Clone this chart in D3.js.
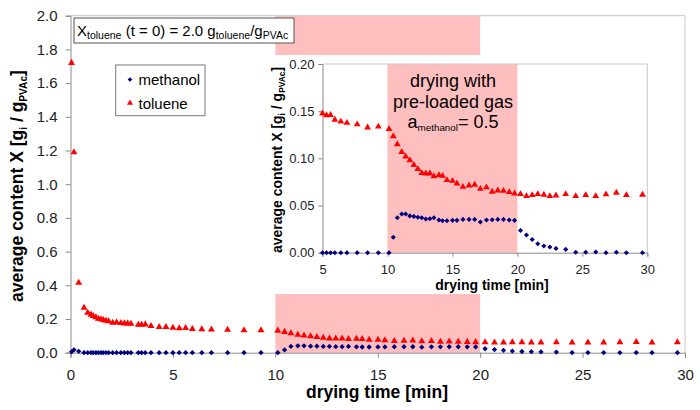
<!DOCTYPE html>
<html><head><meta charset="utf-8">
<script src="https://cdn.jsdelivr.net/npm/d3@7"></script>
<style>body{margin:0;background:#fff}svg{display:block}</style>
</head><body>
<svg id="c" width="700" height="410"></svg>
<script>
// ---- data ----
const time = [0.05,0.17,0.4,0.66,0.84,1.0,1.11,1.24,1.36,1.49,1.6,1.73,1.86,2.06,2.25,2.46,2.63,2.79,2.95,3.31,3.47,3.65,3.93,4.33,4.66,
  5.0,5.31,5.62,5.95,6.41,6.88,7.67,8.47,9.3,10.12,10.45,10.76,11.1,11.4,11.72,12.03,12.34,12.64,12.95,13.26,13.57,13.96,14.24,
  14.58,15.01,15.35,15.81,16.28,16.71,17.15,17.62,18.06,18.49,18.93,19.37,19.78,20.24,20.7,21.14,21.57,22.04,22.5,22.97,23.72,
  24.49,25.26,26.03,26.82,27.62,28.39,29.63];
const toluene = [1.72,1.19,0.415,0.267,0.237,0.226,0.218,0.21,0.202,0.198,0.194,0.19,0.186,0.178,0.18,0.176,0.174,0.174,0.172,0.166,0.166,0.168,0.158,0.152,0.152,
  0.1475,0.1457,0.146,0.141,0.139,0.1376,0.136,0.1327,0.1337,0.131,0.1235,0.115,0.1066,0.102,0.098,0.093,0.0886,0.0844,0.084,0.084,0.081,0.0823,0.0815,
  0.0769,0.0762,0.0734,0.0698,0.0713,0.072,0.0677,0.0692,0.0646,0.066,0.0656,0.0642,0.0628,0.0621,0.060,0.0611,0.0621,0.0614,0.060,0.0607,0.0621,
  0.060,0.0611,0.060,0.0618,0.0635,0.0611,0.0614];
const methanol = [0.005,0.017,0.008,0,0,0,0,0,0,0,0,0,0,0,0,0,0,0,0,0,0,0,0,0,0,
  0,0,0,0,0,0,0,0,0,0,0.0163,0.037,0.041,0.041,0.039,0.0385,0.0375,0.037,0.0357,0.036,0.037,0.0346,0.0339,
  0.0339,0.0343,0.0343,0.0353,0.0353,0.0353,0.0325,0.0346,0.0349,0.0353,0.0353,0.0346,0.0343,0.0235,0.0187,0.014,0.0095,0.0071,0.006,0.0045,0.0035,
  0.0005,0.0005,0.0007,0,0.0005,0,0];
const mainXTicks = [0,5,10,15,20,25,30];
const mainYTicks = [0,0.2,0.4,0.6,0.8,1.0,1.2,1.4,1.6,1.8,2.0];
const insetXTicks = [5,10,15,20,25,30];
const insetYTicks = [0,0.05,0.10,0.15,0.20];
const shadeRange = [10,20];
const seriesNames = ["methanol","toluene"];

// ---- helpers ----
const svg = d3.select("#c");
const FONT = "Liberation Sans, Arial, sans-serif";
const AX = "#8a8a8a", RED = "#ff0000", NAVY = "#000080", PINK = "#ffbfbf";
const pts = time.map((t,i)=>({t, tol: toluene[i], met: methanol[i]}));

function rich(g, x, y, parts, size, o={}) {
  const t = g.append("text").attr("x",x).attr("y",y).attr("font-size",size)
    .attr("font-family",FONT).attr("fill",o.fill||"#000")
    .attr("font-weight",o.bold?"bold":"normal").attr("text-anchor",o.anchor||"start");
  if (o.transform) t.attr("transform",o.transform);
  let sh=false; const d=size*0.22; const r=o.sub||0.62;
  parts.forEach(p=>{
    const ts=t.append("tspan").text(p.t);
    if(p.sub){ts.attr("font-size",size*r); if(!sh){ts.attr("dy",d);sh=true;}}
    else if(sh){ts.attr("dy",-d);sh=false;}
  });
  return t;
}
const tri = d3.symbol().type(d3.symbolTriangle);
const sq = d3.symbol().type(d3.symbolSquare);

function drawMarkers(g, data, x, y, triSize, diaSize) {
  g.append("g").selectAll("path").data(data).join("path")
    .attr("d", tri.size(triSize)())
    .attr("transform", d=>`translate(${x(d.t)},${y(d.tol)})`).attr("fill",RED);
  g.append("g").selectAll("path").data(data).join("path")
    .attr("d", sq.size(diaSize)())
    .attr("transform", d=>`translate(${x(d.t)},${y(d.met)}) rotate(45)`).attr("fill",NAVY);
}

// ---- main chart ----
const x = d3.scaleLinear().domain([0,30]).range([70.5,685]);
const y = d3.scaleLinear().domain([0,2]).range([352.7,15.7]);
const main = svg.append("g");
main.append("rect").attr("x",x(shadeRange[0])).attr("width",x(shadeRange[1])-x(shadeRange[0]))
  .attr("y",y(2)).attr("height",y(0)-y(2)).attr("fill",PINK);
main.append("path").attr("d",`M${x(0)},${y(2)}H${x(30)}V${y(0)}`).attr("fill","none").attr("stroke","#c8c8c8");

const xAx = main.append("g").attr("transform",`translate(0,${y(0)})`)
  .call(d3.axisBottom(x).tickValues(mainXTicks).tickSize(5).tickPadding(12).tickFormat(d3.format("d")));
const yAx = main.append("g").attr("transform",`translate(${x(0)},0)`)
  .call(d3.axisLeft(y).tickValues(mainYTicks).tickSize(5).tickPadding(8).tickFormat(d3.format(".1f")));
[xAx,yAx].forEach(a=>{a.select(".domain").attr("stroke",AX);a.selectAll("line").attr("stroke",AX);
  a.selectAll("text").attr("font-size",15).attr("font-family",FONT).attr("fill","#222");});

drawMarkers(main, pts, x, y, 21, 14);

rich(main, 377, 398, [{t:"drying time [min]"}], 17.5, {bold:true, anchor:"middle"});
rich(main, 0, 0, [{t:"average content X [g"},{t:"i",sub:1},{t:" / g"},{t:"PVAc",sub:1},{t:"]"}], 17.5,
  {bold:true, anchor:"middle", sub:0.58, transform:"translate(23,186) rotate(-90)"});

// annotation box
main.append("rect").attr("x",74).attr("y",18).attr("width",220).attr("height",25)
  .attr("fill","#fff").attr("stroke","#555").attr("stroke-width",1);
rich(main, 77, 36, [{t:"X"},{t:"toluene",sub:1},{t:" (t = 0) = 2.0 g"},{t:"toluene",sub:1},{t:"/g"},{t:"PVAc",sub:1}], 15, {sub:0.7});

// legend
const lg = main.append("g");
lg.append("rect").attr("x",115.7).attr("y",65).attr("width",89.3).attr("height",50.7)
  .attr("fill","#fff").attr("stroke","#777");
lg.append("path").attr("d",sq.size(11)()).attr("transform","translate(130,79.5) rotate(45)").attr("fill",NAVY);
lg.append("path").attr("d",tri.size(16)()).attr("transform","translate(130,103)").attr("fill",RED);
rich(lg, 138.5, 84.5, [{t:seriesNames[0]}], 15);
rich(lg, 138.5, 108.5, [{t:seriesNames[1]}], 15);

// ---- inset ----
const ix = d3.scaleLinear().domain([5,30]).range([322.5,647.3]);
const iy = d3.scaleLinear().domain([0,0.2]).range([252.7,64]);
const inset = svg.append("g");
inset.append("rect").attr("x",258).attr("y",55).attr("width",420).attr("height",239).attr("fill","#fff");
inset.append("rect").attr("x",ix(shadeRange[0])).attr("width",ix(shadeRange[1])-ix(shadeRange[0]))
  .attr("y",iy(0.2)).attr("height",iy(0)-iy(0.2)).attr("fill",PINK);
inset.append("path").attr("d",`M${ix(5)},${iy(0.2)}H${ix(30)}V${iy(0)}`).attr("fill","none").attr("stroke","#c8c8c8");
const ixAx = inset.append("g").attr("transform",`translate(0,${iy(0)})`)
  .call(d3.axisBottom(ix).tickValues(insetXTicks).tickSize(4).tickPadding(8).tickFormat(d3.format("d")));
const iyAx = inset.append("g").attr("transform",`translate(${ix(5)},0)`)
  .call(d3.axisLeft(iy).tickValues(insetYTicks).tickSize(4).tickPadding(4).tickFormat(d3.format(".2f")));
[ixAx,iyAx].forEach(a=>{a.select(".domain").attr("stroke",AX);a.selectAll("line").attr("stroke",AX);
  a.selectAll("text").attr("font-size",13).attr("font-family",FONT).attr("fill","#222");});

drawMarkers(inset, pts.filter(d=>d.t>=4.99), ix, iy, 20, 13);

rich(inset, 492, 290, [{t:"drying time [min]"}], 14, {bold:true, anchor:"middle"});
rich(inset, 0, 0, [{t:"average content X [g"},{t:"i",sub:1},{t:" / g"},{t:"PVAc",sub:1},{t:"]"}], 14,
  {bold:true, anchor:"middle", sub:0.6, transform:"translate(281.5,160) rotate(-90)"});

rich(inset, 453, 87, [{t:"drying with"}], 18, {anchor:"middle"});
rich(inset, 453, 107.5, [{t:"pre-loaded gas"}], 18, {anchor:"middle"});
rich(inset, 453, 127.5, [{t:"a"},{t:"methanol",sub:1},{t:"= 0.5"}], 18, {anchor:"middle", sub:0.55});
</script>
</body></html>
